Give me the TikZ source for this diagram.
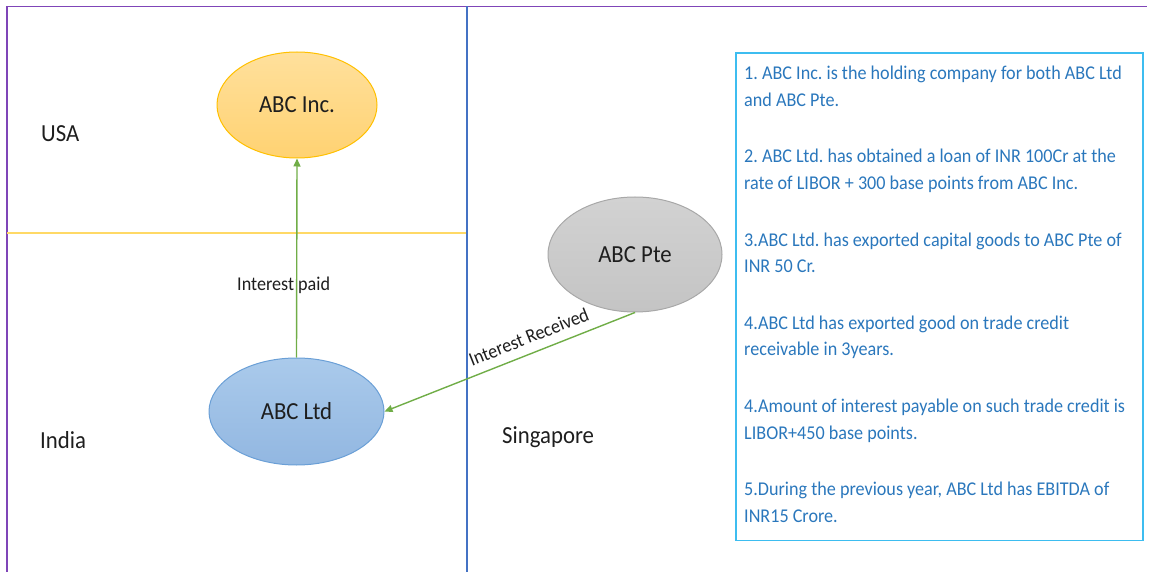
\documentclass[tikz,border=0pt]{standalone}
\usepackage{fontspec}
\setmainfont{Carlito}[FakeStretch=0.93]
\frenchspacing
\usetikzlibrary{shapes.geometric,arrows.meta}
\definecolor{framepurple}{HTML}{7F45B8}
\definecolor{divblue}{HTML}{4472C4}
\definecolor{divyellow}{HTML}{FFD966}
\definecolor{arrowgreen}{HTML}{70AD47}
\definecolor{incfillA}{HTML}{FFE09C}
\definecolor{incfillB}{HTML}{FFD272}
\definecolor{incedge}{HTML}{FFC000}
\definecolor{ltdfillA}{HTML}{AACAEB}
\definecolor{ltdfillB}{HTML}{92B7E1}
\definecolor{ltdedge}{HTML}{6A9FD6}
\definecolor{ptefillA}{HTML}{D2D2D2}
\definecolor{ptefillB}{HTML}{C4C4C4}
\definecolor{pteedge}{HTML}{A8A8A8}
\definecolor{noteedge}{HTML}{3DBDF0}
\definecolor{notetextc}{HTML}{2A77BC}
\definecolor{labeltext}{HTML}{1E1E1E}
\tikzset{
  entity/.style={ellipse, line width=1pt, inner sep=0pt, text=labeltext,
    font=\fontsize{24.5}{29}\selectfont},
  region/.style={anchor=base west, inner sep=0pt, text=labeltext,
    font=\fontsize{24.5}{29}\selectfont},
  flow/.style={draw=arrowgreen, line width=1.4pt,
    -{Triangle[length=8pt,width=7pt]}},
  flowlabel/.style={text=labeltext, font=\fontsize{19.5}{23}\selectfont},
  notebox/.style={draw=noteedge, line width=1.5pt, anchor=north west,
    minimum width=407pt, minimum height=487pt, inner sep=0pt},
  notetext/.style={anchor=north west, inner sep=0pt, align=left,
    text=notetextc, font=\fontsize{19.5}{26.6}\selectfont},
  divider/.style={line width=1.5pt}
}
\begin{document}
\begin{tikzpicture}[x=1pt,y=-1pt]
\useasboundingbox (0,0) rectangle (1152,572);
% frame and dividers
\draw[divider, draw=framepurple] (7,572) -- (7,6.5) -- (1147,6.5);
\draw[divider, draw=divblue] (467,6.5) -- (467,572);
\draw[divider, draw=divyellow] (7,233) -- (466,233);
% region labels
\node[region] (usa) at (41,142) {USA};
\node[region] (india) at (40,448) {India};
\node[region] (sing) at (502,443) {Singapore};
% entities
\node[entity, draw=incedge, top color=incfillA, bottom color=incfillB,
  minimum width=160pt, minimum height=106pt] (inc) at (297,105) {ABC Inc.};
\node[entity, draw=ltdedge, top color=ltdfillA, bottom color=ltdfillB,
  minimum width=175pt, minimum height=107pt] (ltd) at (296.5,411.5) {ABC Ltd};
\node[entity, draw=pteedge, top color=ptefillA, bottom color=ptefillB,
  minimum width=174pt, minimum height=115pt] (pte) at (635,254.5) {ABC Pte};
% flows
\draw[flow] (ltd.north) -- node[flowlabel, pos=0.335, anchor=base, xshift=-13pt, inner sep=0pt] (paidlbl) {Interest paid} (inc.south);
\draw[flow] (pte.south) -- node[flowlabel, pos=0.40, sloped, anchor=south, inner sep=9pt] (reclbl) {Interest Received} (ltd.east);
% notes
\node[notebox] (notes) at (735,52.5) {};
\node[notetext] (notetext) at (744,66) {1. ABC Inc. is the holding company for both ABC Ltd\\
and ABC Pte.\\[30pt]
2. ABC Ltd. has obtained a loan of INR 100Cr at the\\
rate of LIBOR + 300 base points from ABC Inc.\\[30pt]
3.ABC Ltd. has exported capital goods to ABC Pte of\\
INR 50 Cr.\\[30pt]
4.ABC Ltd has exported good on trade credit\\
receivable in 3years.\\[30pt]
4.Amount of interest payable on such trade credit is\\
LIBOR+450 base points.\\[30pt]
5.During the previous year, ABC Ltd has EBITDA of\\
INR15 Crore.};
\end{tikzpicture}
\end{document}
